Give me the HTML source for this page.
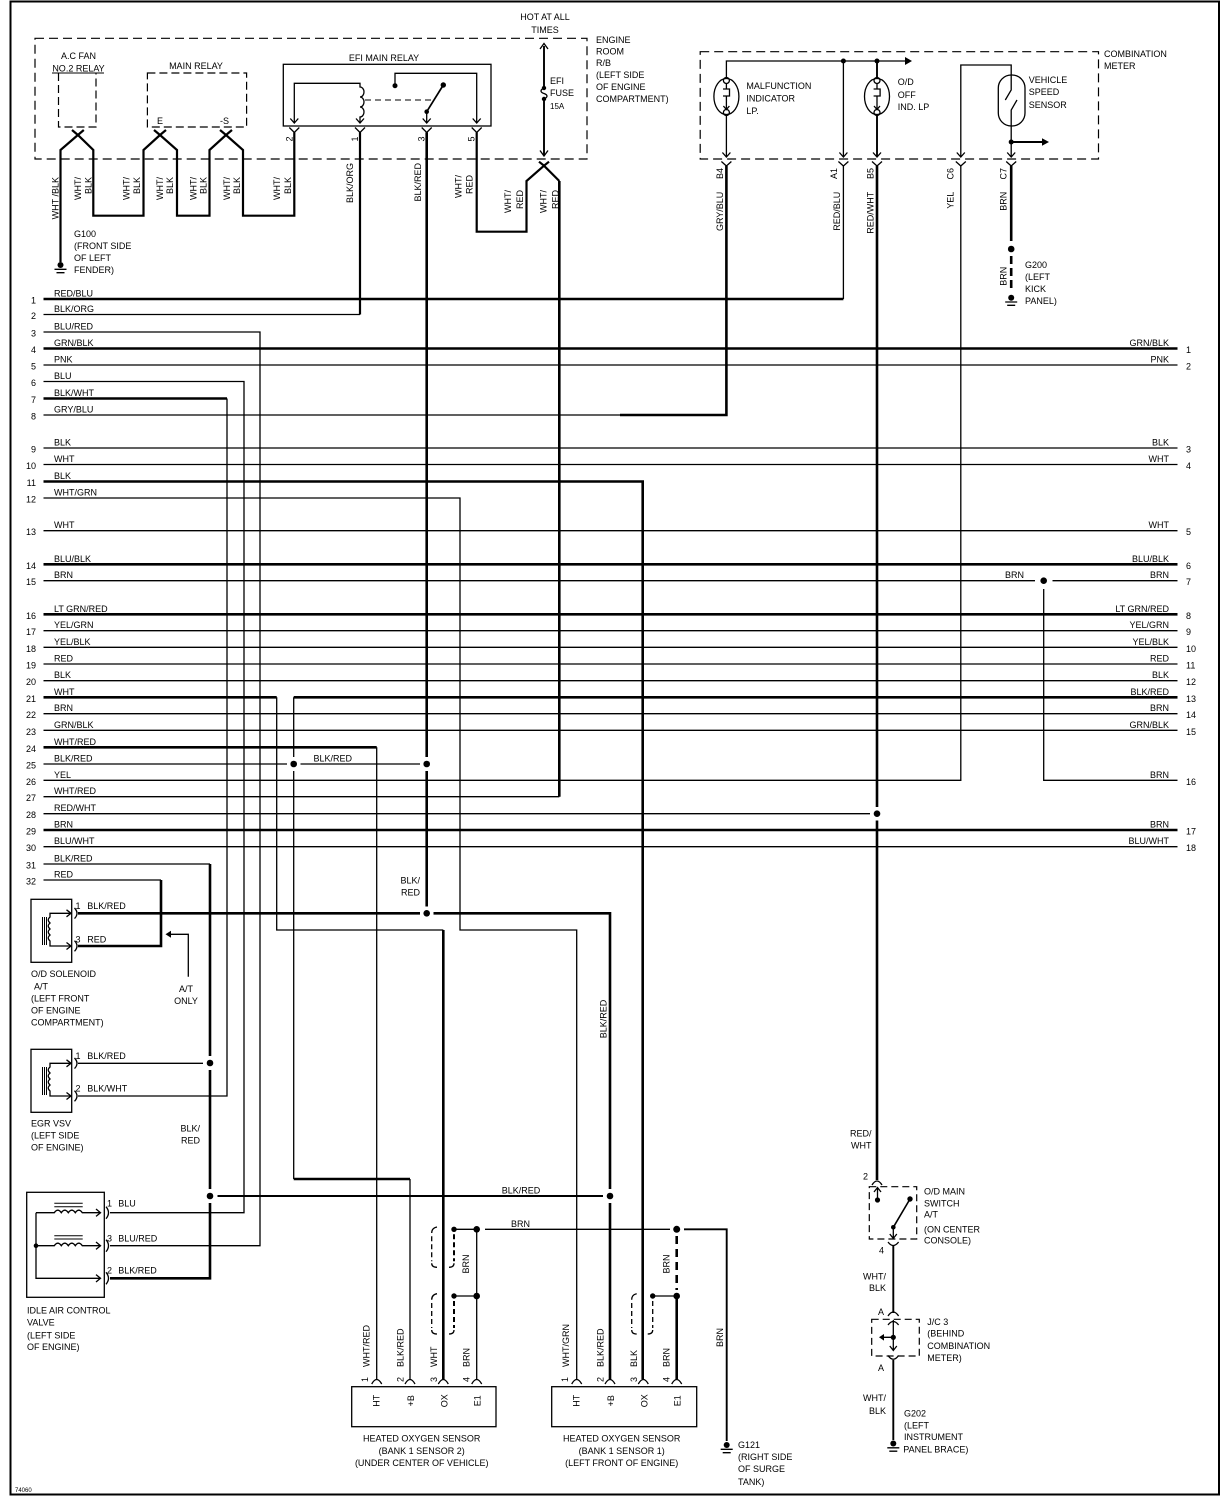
<!DOCTYPE html>
<html><head><meta charset="utf-8"><style>
html,body{margin:0;padding:0;background:#fff;}
svg{display:block}
text{font-family:"Liberation Sans",sans-serif;font-size:9px;fill:#000}
.k{stroke:#000;stroke-width:2.6;fill:none}
.w{stroke:#000;stroke-width:2.2;fill:none}
.m{stroke:#000;stroke-width:1.9;fill:none}
.t{stroke:#000;stroke-width:1.3;fill:none}
.h{stroke:#000;stroke-width:1;fill:none}
.d{stroke:#000;stroke-width:1.2;fill:none;stroke-dasharray:9 5}
</style></head><body>
<svg width="1232" height="1497" viewBox="0 0 1232 1497" xmlns="http://www.w3.org/2000/svg">
<rect x="0" y="0" width="1232" height="1497" fill="#fff"/>
<rect x="10.5" y="1.5" width="1208.5" height="1493" fill="none" stroke="#000" stroke-width="2"/>

<!-- ===== dashed boxes ===== -->
<rect x="35" y="38.3" width="552" height="120.7" class="d"/>
<rect x="700.2" y="51.7" width="398.3" height="107.3" class="d"/>
<path d="M58.5,73 V127 H96 V73" class="d" style="stroke-dasharray:8 4"/>
<path d="M52,73 H104" class="h"/>
<rect x="147.4" y="73" width="99.2" height="54" class="d" style="stroke-dasharray:8 4"/>
<rect x="283.3" y="64.3" width="207.7" height="61.7" class="t"/>

<!-- ===== EFI main relay internals ===== -->
<path class="t" d="M294.3,123 V83.3 H360 V87 a4,5 0 0 1 0,10 a4,5 0 0 1 0,10 a4,5 0 0 1 0,10 V123"/>
<path d="M365,100 H435" class="h" style="stroke-dasharray:6 4"/>
<path class="t" d="M395,85.7 V73.3 H476.7 V123"/>
<path d="M426.7,111.7 L443.3,85" stroke="#000" stroke-width="1.7" fill="none"/>
<path class="t" d="M426.7,111.7 V123"/>
<circle cx="395" cy="85.7" r="2.5"/><circle cx="443.3" cy="85" r="2.7"/><circle cx="426.7" cy="111.7" r="2.3"/>
<!-- relay pin arrows -->
<path class="t" d="M290.3,118.5 L294.3,123 L298.3,118.5 M356,118.5 L360,123 L364,118.5 M422.7,118.5 L426.7,123 L430.7,118.5 M472.7,118.5 L476.7,123 L480.7,118.5"/>
<path class="t" d="M289.3,127.5 L294.3,132.5 L299.3,127.5 M355,127.5 L360,132.5 L365,127.5 M421.7,127.5 L426.7,132.5 L431.7,127.5 M471.7,127.5 L476.7,132.5 L481.7,127.5"/>

<!-- EFI fuse -->
<path d="M544,46 V88 M544,99 V155" stroke="#000" stroke-width="1.9" fill="none"/>
<path class="t" d="M544,88 c-4,2 -4,4 0,5.5 c4,1.5 4,3.5 0,5.5"/>
<circle cx="544" cy="88" r="2.2"/><circle cx="544" cy="99" r="2.2"/>
<path class="t" d="M540,49 L544,43.5 L548,49 M540,150.5 L544,156 L548,150.5"/>

<!-- relay chain wires -->
<path class="w" d="M60.5,262 V150 L77.9,135 L83.8,130"/>
<path class="w" d="M72,130 L77.9,135 L93.3,150 V215.7 H143.5 V150 L160,135 L166,130"/>
<path class="w" d="M154,130 L160,135 L177,150 V215.7 H209.5 V150 L226,135 L232,130"/>
<path class="w" d="M220,130 L226,135 L243,150 V215.7 H294.3 V132.5"/>
<path class="w" d="M476.7,132.5 V231.7 H526.5 V181 L544,165.7 L549,161.7"/>
<path class="w" d="M539,161.7 L544,165.7 L559.3,181"/>
<path class="w" d="M360,132.5 V314.5"/>

<!-- ===== combination meter internals ===== -->
<path class="t" d="M726.4,78 V61 H906 M843.4,61 V157"/>
<path d="M905,57 L912,61 L905,65 Z"/>
<circle cx="843.4" cy="61" r="2.5"/><circle cx="877" cy="61" r="2.5"/>
<path class="m" d="M877,61 V78"/>
<!-- lamps -->
<g class="t">
<ellipse cx="726.4" cy="96.5" rx="12.5" ry="18"/>
<circle cx="726.4" cy="80.5" r="3"/><circle cx="726.4" cy="112.5" r="3"/>
<path d="M726.4,83.5 V89 M723,89 H729.5 V96 H723 M726.4,96 V109.5 M723.4,106 L726.4,109.5 L729.4,106"/>
<ellipse cx="877" cy="96.5" rx="12.5" ry="18"/>
<circle cx="877" cy="80.5" r="3"/><circle cx="877" cy="112.5" r="3"/>
<path d="M877,83.5 V89 M873.6,89 H880.1 V96 H873.6 M877,96 V109.5 M874,106 L877,109.5 L880,106"/>
<path d="M726.4,115.5 V157"/>
</g>
<path class="m" d="M877,115.5 V157"/>
<!-- speed sensor -->
<path class="t" d="M960.8,157 V65 H1011.2 V90 L1005.3,100 M1017,100 L1011.2,110 V157"/>
<rect x="998.3" y="75" width="26.7" height="51" rx="13" class="t"/>
<circle cx="1011.2" cy="142" r="2.5"/>
<path class="m" d="M1011.2,142 H1043"/>
<path d="M1042,138.3 L1049,142 L1042,145.7 Z"/>
<!-- meter pin arrows -->
<path class="t" d="M722.4,152.5 L726.4,157 L730.4,152.5 M839.4,152.5 L843.4,157 L847.4,152.5 M873,152.5 L877,157 L881,152.5 M956.8,152.5 L960.8,157 L964.8,152.5 M1007.2,152.5 L1011.2,157 L1015.2,152.5"/>
<path class="t" d="M721.4,161.5 L726.4,166 L731.4,161.5 M838.4,161.5 L843.4,166 L848.4,161.5 M872,161.5 L877,166 L882,161.5 M955.8,161.5 L960.8,166 L965.8,161.5 M1006.2,161.5 L1011.2,166 L1016.2,161.5"/>

<!-- ===== main harness rows ===== -->
<g class="k">
<path d="M43.5,299 H843.4"/>
<path d="M43.5,348.5 H1177.5"/>
<path d="M43.5,398.5 H227"/>
<path d="M620,415 H726.4 V166"/>
<path d="M43.5,481.5 H642.7 V1379"/>
<path d="M43.5,564.3 H1177.5"/>
<path d="M43.5,614.3 H1177.5"/>
<path d="M43.5,697.3 H276.7"/>
<path d="M293.7,697.3 H1177.5"/>
<path d="M443.3,930 V1379"/>
<path d="M43.5,747.3 H376.7"/>
<path d="M559.3,796.7 V181"/>
<path d="M43.5,830 H1177.5"/>
<path d="M210,864 V1056 M210,1070 V1189 M210,1203 V1278.3 H110"/>
<path d="M161,880 V946 H78"/>
<path d="M426.7,132.5 V757 M426.7,771 V906.5"/>
<path d="M78,913.3 H420 M433.5,913.3 H610 V1189 M610,1203 V1379"/>
<path d="M877,166 V807 M877,820.5 V1180"/>
<path d="M293.7,1179 H410"/>
<path d="M1011.2,166 V241"/>
<path d="M676.7,1296 V1379"/>
</g>
<path d="M1011.2,256 V292" stroke="#000" stroke-width="2.6" stroke-dasharray="8 4" fill="none"/>
<path d="M676.7,1236 V1290" stroke="#000" stroke-width="2.6" stroke-dasharray="8 5" fill="none"/>
<g class="t">
<path d="M43.5,314.5 H360"/>
<path d="M43.5,332 H260 V1245.7 H110"/>
<path d="M43.5,365 H1177.5"/>
<path d="M43.5,381.5 H244 V1212.7 H110"/>
<path d="M227,398.5 V1096 H78"/>
<path d="M43.5,415 H620"/>
<path d="M43.5,448 H1177.5"/>
<path d="M43.5,464.5 H1177.5"/>
<path d="M43.5,498 H460 V930 H576.7 V1379"/>
<path d="M43.5,530.7 H1177.5"/>
<path d="M43.5,580.7 H1035 M1052.5,580.7 H1177.5"/>
<path d="M43.5,630.7 H1177.5"/>
<path d="M43.5,647.3 H1177.5"/>
<path d="M43.5,664 H1177.5"/>
<path d="M43.5,680.7 H1177.5"/>
<path d="M276.7,697.3 V930 H443.3"/>
<path d="M293.7,697.3 V757 M293.7,771 V1179"/>
<path d="M43.5,713.7 H1177.5"/>
<path d="M43.5,730.3 H1177.5"/>
<path d="M376.7,747.3 V1379"/>
<path d="M43.5,764 H287 M300.5,764 H420"/>
<path d="M43.5,780.3 H960.8 V166"/>
<path d="M43.5,796.7 H559.3"/>
<path d="M43.5,813.7 H870"/>
<path d="M43.5,846.7 H1177.5"/>
<path d="M43.5,864 H210"/>
<path d="M43.5,880 H161"/>
<path d="M843.4,299 V166"/>
<path d="M410,1179 V1379"/>
<path d="M1043.7,589 V780.3 H1177.5"/>
<path d="M78,1063.3 H203"/>
<path d="M476.7,1229.3 V1379"/>
<path d="M454,1229.3 H476.7 M454,1296 H476.7"/>
<path d="M485,1229.3 H670"/>
<path d="M652.7,1296 H676.7"/>
</g>
<g class="m">
<path d="M217.5,1196 H603"/>
<path d="M684,1229.3 H726.7 V1441"/>
<path d="M893.3,1246 V1313"/>
<path d="M893.3,1360 V1440"/>
</g>

<!-- junction dots -->
<g>
<circle cx="293.7" cy="764" r="3.3"/><circle cx="426.7" cy="764" r="3.3"/>
<circle cx="426.7" cy="913.3" r="3.3"/><circle cx="877" cy="813.7" r="3.3"/>
<circle cx="1043.7" cy="580.7" r="3.3"/><circle cx="210" cy="1063" r="3.3"/>
<circle cx="210" cy="1196" r="3.3"/><circle cx="610" cy="1196" r="3.3"/>
<circle cx="476.7" cy="1229.3" r="3.3"/><circle cx="676.7" cy="1229.3" r="3.5"/>
<circle cx="476.7" cy="1296" r="3.3"/><circle cx="676.7" cy="1296" r="3.3"/>
<circle cx="1011.2" cy="249" r="3.3"/>
</g>

<!-- grounds -->
<g>
<circle cx="60.5" cy="265" r="3"/><path class="t" d="M54.5,269.3 H66.5 M56.5,272.7 H64.5"/>
<circle cx="1011.2" cy="297.7" r="3"/><path class="t" d="M1005.2,302 H1017.2 M1007.2,305.3 H1015.2"/>
<circle cx="726.7" cy="1445" r="3"/><path class="t" d="M720.7,1449.3 H732.7 M722.7,1452.7 H730.7"/>
<circle cx="893.3" cy="1443.5" r="3"/><path class="t" d="M887.3,1447.8 H899.3 M889.3,1451.2 H897.3"/>
</g>

<!-- ===== O/D solenoid ===== -->
<g id="sol">
<rect x="31" y="899.3" width="40.7" height="63" class="t"/>
<path class="h" d="M42.5,917 V945 M44.5,917 V945 M46.5,917 V945"/>
<path class="t" d="M70,913.3 H50 V917 q-3.5,3 0,6 q-3.5,3 0,6 q-3.5,3 0,6 q-3.5,3 0,6 V946 H70"/>
<path class="t" d="M66.5,909.8 L71,913.3 L66.5,916.8 M66.5,942.5 L71,946 L66.5,949.5"/>
<path class="t" d="M74.5,908 Q79.5,913.3 74.5,918.6 M74.5,940.7 Q79.5,946 74.5,951.3"/>
</g>
<g transform="translate(0,150)">
<rect x="31" y="899.3" width="40.7" height="63" class="t"/>
<path class="h" d="M42.5,917 V945 M44.5,917 V945 M46.5,917 V945"/>
<path class="t" d="M70,913.3 H50 V917 q-3.5,3 0,6 q-3.5,3 0,6 q-3.5,3 0,6 q-3.5,3 0,6 V946 H70"/>
<path class="t" d="M66.5,909.8 L71,913.3 L66.5,916.8 M66.5,942.5 L71,946 L66.5,949.5"/>
<path class="t" d="M74.5,908 Q79.5,913.3 74.5,918.6 M74.5,940.7 Q79.5,946 74.5,951.3"/>
</g>
<!-- A/T only arrow -->
<path class="t" d="M188.3,976.7 V934.3 H170"/>
<path d="M171,930.8 L165.5,934.3 L171,937.8 Z"/>

<!-- ===== IAC ===== -->
<rect x="26.7" y="1192.3" width="77.6" height="105" class="t"/>
<path class="t" d="M36,1212.7 H54.3 q3.5,-5 7,0 q3.5,-5 7,0 q3.5,-5 7,0 q3.5,-5 7,0 H100"/>
<path class="t" d="M36,1245.7 H54.3 q3.5,-5 7,0 q3.5,-5 7,0 q3.5,-5 7,0 q3.5,-5 7,0 H100"/>
<path class="h" d="M54.3,1203.3 H82.7 M54.3,1206.7 H82.7 M54.3,1235.7 H82.7 M54.3,1239 H82.7"/>
<path class="t" d="M36,1212.7 V1278.3 H100"/>
<circle cx="36" cy="1245.7" r="2.3"/>
<path class="t" d="M96,1209 L100.5,1212.7 L96,1216.4 M96,1242 L100.5,1245.7 L96,1249.4 M96,1274.6 L100.5,1278.3 L96,1282"/>
<path class="t" d="M106,1206.7 Q111,1212.7 106,1218.7 M106,1239.7 Q111,1245.7 106,1251.7 M106,1272.3 Q111,1278.3 106,1284.3"/>

<!-- ===== Oxygen sensors ===== -->
<rect x="351.7" y="1386.7" width="144.3" height="40" class="t"/>
<rect x="551.7" y="1386.7" width="145" height="40" class="t"/>
<path class="t" d="M371.7,1384 Q376.7,1375 381.7,1384 M405,1384 Q410,1375 415,1384 M438.3,1384 Q443.3,1375 448.3,1384 M471.7,1384 Q476.7,1375 481.7,1384"/>
<path class="t" d="M571.7,1384 Q576.7,1375 581.7,1384 M605,1384 Q610,1375 615,1384 M638.3,1384 Q643.3,1375 648.3,1384 M671.7,1384 Q676.7,1375 681.7,1384"/>
<!-- shields -->
<g transform="translate(454,1229.3)">
<path class="t" d="M-17,-2.3 Q-22.3,-1.3 -22.3,3.7 M-22.3,34 Q-22.3,38 -17,38"/>
<path class="t" d="M-22.3,7 V32" style="stroke-dasharray:5 3"/>
<path d="M0,5 V32" stroke="#000" stroke-width="2" stroke-dasharray="5 3" fill="none"/>
<path class="t" d="M0,34 Q0,38 -5,38"/>
<circle cx="0" cy="0" r="2.7"/>
</g>
<g transform="translate(454,1296)">
<path class="t" d="M-17,-2.3 Q-22.3,-1.3 -22.3,3.7 M-22.3,34 Q-22.3,38 -17,38"/>
<path class="t" d="M-22.3,7 V32" style="stroke-dasharray:5 3"/>
<path d="M0,5 V32" stroke="#000" stroke-width="2" stroke-dasharray="5 3" fill="none"/>
<path class="t" d="M0,34 Q0,38 -5,38"/>
<circle cx="0" cy="0" r="2.7"/>
</g>
<g transform="translate(652.7,1296)">
<path class="t" d="M-16,-2.3 Q-21,-1.3 -21,3.7 M-21,34 Q-21,38 -16,38"/>
<path class="t" d="M-21,7 V32" style="stroke-dasharray:5 3"/>
<path class="t" d="M0,5 V32" style="stroke-dasharray:5 3"/>
<path class="t" d="M0,34 Q0,38 -5,38"/>
<circle cx="0" cy="0" r="2.7"/>
</g>

<!-- ===== O/D main switch & J/C 3 ===== -->
<path class="t" d="M872,1185 Q877,1177 882,1185"/>
<rect x="869.3" y="1186.7" width="47.4" height="52.3" class="d" style="stroke-dasharray:7 4"/>
<path class="t" d="M877.5,1200 V1188 M874,1192 L877.5,1187.5 L881,1192"/>
<circle cx="877.5" cy="1200" r="2.6"/>
<path d="M910,1199 L893.3,1227.3" stroke="#000" stroke-width="1.6"/>
<circle cx="910" cy="1199" r="2.7"/><circle cx="893.3" cy="1227.3" r="2.3"/>
<path class="t" d="M893.3,1227.3 V1238 M889.8,1234 L893.3,1238.5 L896.8,1234"/>
<path class="t" d="M888,1242 Q893.3,1249 898.6,1242"/>
<path class="t" d="M888,1316 Q893.3,1308 898.6,1316"/>
<rect x="871.7" y="1319.3" width="47.6" height="36.7" class="d" style="stroke-dasharray:7 4"/>
<path class="t" d="M888,1325 Q893.3,1318 898.6,1325 M893.3,1320 V1350 M889.8,1346 L893.3,1350.5 L896.8,1346 M893.3,1337.3 H883"/>
<circle cx="893.3" cy="1337.3" r="2.6"/>
<path d="M884,1334 L879,1337.3 L884,1340.6 Z"/>
<path class="t" d="M888,1355.5 Q893.3,1363 898.6,1355.5"/>

<!-- ===== TEXT ===== -->
<g>
<text x="545" y="20" text-anchor="middle">HOT AT ALL</text>
<text x="545" y="33" text-anchor="middle">TIMES</text>
<text x="596" y="43">ENGINE</text>
<text x="596" y="54.5">ROOM</text>
<text x="596" y="66">R/B</text>
<text x="596" y="78">(LEFT SIDE</text>
<text x="596" y="90">OF ENGINE</text>
<text x="596" y="102">COMPARTMENT)</text>
<text x="78.5" y="59" text-anchor="middle">A.C FAN</text>
<text x="78.5" y="71.5" text-anchor="middle">NO.2 RELAY</text>
<text x="196" y="69" text-anchor="middle">MAIN RELAY</text>
<text x="157" y="124">E</text>
<text x="220" y="124">-S</text>
<text x="384" y="61" text-anchor="middle">EFI MAIN RELAY</text>
<text x="550" y="84">EFI</text>
<text x="550" y="96">FUSE</text>
<text x="550" y="109" style="font-size:8px">15A</text>
<text x="74" y="237">G100</text>
<text x="74" y="249">(FRONT SIDE</text>
<text x="74" y="261">OF LEFT</text>
<text x="74" y="273">FENDER)</text>
<text x="1104" y="57">COMBINATION</text>
<text x="1104" y="69">METER</text>
<text x="746.4" y="89">MALFUNCTION</text>
<text x="746.4" y="101.5">INDICATOR</text>
<text x="746.4" y="114">LP.</text>
<text x="897.8" y="85">O/D</text>
<text x="897.8" y="98">OFF</text>
<text x="897.8" y="110">IND. LP</text>
<text x="1028.8" y="83">VEHICLE</text>
<text x="1028.8" y="95">SPEED</text>
<text x="1028.8" y="108">SENSOR</text>
<text x="1025" y="268">G200</text>
<text x="1025" y="280">(LEFT</text>
<text x="1025" y="292">KICK</text>
<text x="1025" y="304">PANEL)</text>
</g>

<!-- rotated top labels -->
<g text-anchor="end">
<text transform="translate(58.7,177) rotate(-90)">WHT /BLK</text>
<text transform="translate(80.9,177) rotate(-90)">WHT/</text>
<text transform="translate(91.5,177) rotate(-90)">BLK</text>
<text transform="translate(129.5,177) rotate(-90)">WHT/</text>
<text transform="translate(140.1,177) rotate(-90)">BLK</text>
<text transform="translate(163,177) rotate(-90)">WHT/</text>
<text transform="translate(173,177) rotate(-90)">BLK</text>
<text transform="translate(196.3,177) rotate(-90)">WHT/</text>
<text transform="translate(206.5,177) rotate(-90)">BLK</text>
<text transform="translate(230,177) rotate(-90)">WHT/</text>
<text transform="translate(240,177) rotate(-90)">BLK</text>
<text transform="translate(280,177) rotate(-90)">WHT/</text>
<text transform="translate(291,177) rotate(-90)">BLK</text>
<text transform="translate(352.8,163) rotate(-90)">BLK/ORG</text>
<text transform="translate(421,163) rotate(-90)">BLK/RED</text>
<text transform="translate(461.5,175) rotate(-90)">WHT/</text>
<text transform="translate(472.6,175) rotate(-90)">RED</text>
<text transform="translate(511,190) rotate(-90)">WHT/</text>
<text transform="translate(523,190) rotate(-90)">RED</text>
<text transform="translate(546.5,190) rotate(-90)">WHT/</text>
<text transform="translate(558.7,190) rotate(-90)">RED</text>
<text transform="translate(722.8,168) rotate(-90)">B4</text>
<text transform="translate(722.8,191.7) rotate(-90)">GRY/BLU</text>
<text transform="translate(837,168) rotate(-90)">A1</text>
<text transform="translate(840,191.7) rotate(-90)">RED/BLU</text>
<text transform="translate(873.4,168) rotate(-90)">B5</text>
<text transform="translate(873.4,191.7) rotate(-90)">RED/WHT</text>
<text transform="translate(953.6,168) rotate(-90)">C6</text>
<text transform="translate(953.6,191.7) rotate(-90)">YEL</text>
<text transform="translate(1006.4,168) rotate(-90)">C7</text>
<text transform="translate(1006.4,191.7) rotate(-90)">BRN</text>
<text transform="translate(1006.4,266.7) rotate(-90)">BRN</text>
</g>
<g text-anchor="middle">
<text transform="translate(292.3,139) rotate(-90)">2</text>
<text transform="translate(358,139) rotate(-90)">1</text>
<text transform="translate(424.7,139) rotate(-90)">3</text>
<text transform="translate(474.7,139) rotate(-90)">5</text>
</g>

<!-- left row labels -->
<g>
<text x="54" y="296.5">RED/BLU</text>
<text x="54" y="312">BLK/ORG</text>
<text x="54" y="329.5">BLU/RED</text>
<text x="54" y="346">GRN/BLK</text>
<text x="54" y="362.5">PNK</text>
<text x="54" y="379">BLU</text>
<text x="54" y="396">BLK/WHT</text>
<text x="54" y="412.5">GRY/BLU</text>
<text x="54" y="445.5">BLK</text>
<text x="54" y="462">WHT</text>
<text x="54" y="479">BLK</text>
<text x="54" y="495.5">WHT/GRN</text>
<text x="54" y="528.2">WHT</text>
<text x="54" y="561.8">BLU/BLK</text>
<text x="54" y="578.2">BRN</text>
<text x="54" y="611.8">LT GRN/RED</text>
<text x="54" y="628.2">YEL/GRN</text>
<text x="54" y="644.8">YEL/BLK</text>
<text x="54" y="661.5">RED</text>
<text x="54" y="678.2">BLK</text>
<text x="54" y="694.8">WHT</text>
<text x="54" y="711.2">BRN</text>
<text x="54" y="727.8">GRN/BLK</text>
<text x="54" y="744.8">WHT/RED</text>
<text x="54" y="761.5">BLK/RED</text>
<text x="54" y="777.8">YEL</text>
<text x="54" y="794.2">WHT/RED</text>
<text x="54" y="811.2">RED/WHT</text>
<text x="54" y="827.5">BRN</text>
<text x="54" y="844.2">BLU/WHT</text>
<text x="54" y="861.5">BLK/RED</text>
<text x="54" y="877.5">RED</text>
</g>
<g text-anchor="end" style="font-size:8.5px">
<text x="36" y="303.5">1</text><text x="36" y="319">2</text><text x="36" y="336.5">3</text>
<text x="36" y="353">4</text><text x="36" y="369.5">5</text><text x="36" y="386">6</text>
<text x="36" y="403">7</text><text x="36" y="419.5">8</text><text x="36" y="452.5">9</text>
<text x="36" y="469">10</text><text x="36" y="486">11</text><text x="36" y="502.5">12</text>
<text x="36" y="535.2">13</text><text x="36" y="568.8">14</text><text x="36" y="585.2">15</text>
<text x="36" y="618.8">16</text><text x="36" y="635.2">17</text><text x="36" y="651.8">18</text>
<text x="36" y="668.5">19</text><text x="36" y="685.2">20</text><text x="36" y="701.8">21</text>
<text x="36" y="718.2">22</text><text x="36" y="734.8">23</text><text x="36" y="751.8">24</text>
<text x="36" y="768.5">25</text><text x="36" y="784.8">26</text><text x="36" y="801.2">27</text>
<text x="36" y="818.2">28</text><text x="36" y="834.5">29</text><text x="36" y="851.2">30</text>
<text x="36" y="868.5">31</text><text x="36" y="884.5">32</text>
</g>
<!-- right row labels -->
<g text-anchor="end">
<text x="1169" y="346">GRN/BLK</text>
<text x="1169" y="362.5">PNK</text>
<text x="1169" y="445.5">BLK</text>
<text x="1169" y="462">WHT</text>
<text x="1169" y="528.2">WHT</text>
<text x="1169" y="561.8">BLU/BLK</text>
<text x="1169" y="578.2">BRN</text>
<text x="1169" y="611.8">LT GRN/RED</text>
<text x="1169" y="628.2">YEL/GRN</text>
<text x="1169" y="644.8">YEL/BLK</text>
<text x="1169" y="661.5">RED</text>
<text x="1169" y="678.2">BLK</text>
<text x="1169" y="694.8">BLK/RED</text>
<text x="1169" y="711.2">BRN</text>
<text x="1169" y="727.8">GRN/BLK</text>
<text x="1169" y="777.8">BRN</text>
<text x="1169" y="827.5">BRN</text>
<text x="1169" y="844.2">BLU/WHT</text>
</g>
<g style="font-size:8.5px">
<text x="1186" y="353">1</text><text x="1186" y="369.5">2</text><text x="1186" y="452.5">3</text>
<text x="1186" y="469">4</text><text x="1186" y="535.2">5</text><text x="1186" y="568.8">6</text>
<text x="1186" y="585.2">7</text><text x="1186" y="618.8">8</text><text x="1186" y="635.2">9</text>
<text x="1186" y="651.8">10</text><text x="1186" y="668.5">11</text><text x="1186" y="685.2">12</text>
<text x="1186" y="701.8">13</text><text x="1186" y="718.2">14</text><text x="1186" y="734.8">15</text>
<text x="1186" y="784.8">16</text><text x="1186" y="834.5">17</text><text x="1186" y="851.2">18</text>
</g>

<!-- mid labels -->
<g>
<text x="1005" y="578">BRN</text>
<text x="313.5" y="761.5">BLK/RED</text>
<text x="420" y="883.5" text-anchor="end">BLK/</text>
<text x="420" y="895.5" text-anchor="end">RED</text>
<text transform="translate(606.3,1019) rotate(-90)" text-anchor="middle">BLK/RED</text>
<text x="501.7" y="1193.7">BLK/RED</text>
<text x="511" y="1227">BRN</text>
</g>

<!-- bottom-left labels -->
<g>
<text x="75.5" y="909">1</text><text x="87.3" y="909">BLK/RED</text>
<text x="75.5" y="942.3">3</text><text x="87.3" y="942.3">RED</text>
<text x="31" y="977">O/D SOLENOID</text>
<text x="34" y="989.5">A/T</text>
<text x="31" y="1001.5">(LEFT FRONT</text>
<text x="31" y="1013.5">OF ENGINE</text>
<text x="31" y="1025.5">COMPARTMENT)</text>
<text x="186" y="992" text-anchor="middle">A/T</text>
<text x="186" y="1004" text-anchor="middle">ONLY</text>
<text x="75.5" y="1059">1</text><text x="87.3" y="1059">BLK/RED</text>
<text x="75.5" y="1091.7">2</text><text x="87.3" y="1091.7">BLK/WHT</text>
<text x="31" y="1126.6">EGR VSV</text>
<text x="31" y="1138.6">(LEFT SIDE</text>
<text x="31" y="1150.6">OF ENGINE)</text>
<text x="200" y="1131.6" text-anchor="end">BLK/</text>
<text x="200" y="1143.3" text-anchor="end">RED</text>
<text x="107" y="1206.6">1</text><text x="118.3" y="1206.6">BLU</text>
<text x="107" y="1241.6">3</text><text x="118.3" y="1241.6">BLU/RED</text>
<text x="107" y="1273.3">2</text><text x="118.3" y="1273.3">BLK/RED</text>
<text x="27" y="1313.3">IDLE AIR CONTROL</text>
<text x="27" y="1325.6">VALVE</text>
<text x="27" y="1338.3">(LEFT SIDE</text>
<text x="27" y="1350">OF ENGINE)</text>
<text x="15" y="1492" style="font-size:6px">74060</text>
</g>

<!-- sensor labels -->
<g>
<text transform="translate(369.7,1367) rotate(-90)">WHT/RED</text>
<text transform="translate(403.7,1367) rotate(-90)">BLK/RED</text>
<text transform="translate(437,1367) rotate(-90)">WHT</text>
<text transform="translate(469.7,1367) rotate(-90)">BRN</text>
<text transform="translate(368,1382) rotate(-90)">1</text>
<text transform="translate(403.7,1382) rotate(-90)">2</text>
<text transform="translate(437,1382) rotate(-90)">3</text>
<text transform="translate(469.7,1382) rotate(-90)">4</text>
<text transform="translate(569,1367) rotate(-90)">WHT/GRN</text>
<text transform="translate(603.7,1367) rotate(-90)">BLK/RED</text>
<text transform="translate(637,1367) rotate(-90)">BLK</text>
<text transform="translate(669.7,1367) rotate(-90)">BRN</text>
<text transform="translate(568,1382) rotate(-90)">1</text>
<text transform="translate(603.7,1382) rotate(-90)">2</text>
<text transform="translate(637,1382) rotate(-90)">3</text>
<text transform="translate(669.7,1382) rotate(-90)">4</text>
</g>
<g text-anchor="middle">
<text transform="translate(469,1264) rotate(-90)">BRN</text>
<text transform="translate(669.7,1264) rotate(-90)">BRN</text>
<text transform="translate(723,1337.5) rotate(-90)">BRN</text>
<text transform="translate(379.7,1400.7) rotate(-90)">HT</text>
<text transform="translate(414,1400.7) rotate(-90)">+B</text>
<text transform="translate(447.3,1400.7) rotate(-90)">OX</text>
<text transform="translate(480.7,1400.7) rotate(-90)">E1</text>
<text transform="translate(579.7,1400.7) rotate(-90)">HT</text>
<text transform="translate(614,1400.7) rotate(-90)">+B</text>
<text transform="translate(647.3,1400.7) rotate(-90)">OX</text>
<text transform="translate(680.7,1400.7) rotate(-90)">E1</text>
<text x="421.7" y="1441.5">HEATED OXYGEN SENSOR</text>
<text x="421.7" y="1454">(BANK 1 SENSOR 2)</text>
<text x="421.7" y="1466">(UNDER CENTER OF VEHICLE)</text>
<text x="621.7" y="1441.5">HEATED OXYGEN SENSOR</text>
<text x="621.7" y="1454">(BANK 1 SENSOR 1)</text>
<text x="621.7" y="1466">(LEFT FRONT OF ENGINE)</text>
</g>
<g>
<text x="738" y="1448">G121</text>
<text x="738" y="1460">(RIGHT SIDE</text>
<text x="738" y="1472">OF SURGE</text>
<text x="738" y="1485">TANK)</text>
</g>

<!-- switch labels -->
<g>
<text x="871.5" y="1136.6" text-anchor="end">RED/</text>
<text x="871.5" y="1148.3" text-anchor="end">WHT</text>
<text x="863" y="1179.3">2</text>
<text x="924" y="1194.3">O/D MAIN</text>
<text x="924" y="1206.3">SWITCH</text>
<text x="924" y="1217.3">A/T</text>
<text x="924" y="1232.3">(ON CENTER</text>
<text x="924" y="1243.3">CONSOLE)</text>
<text x="879" y="1253.3">4</text>
<text x="886" y="1279.3" text-anchor="end">WHT/</text>
<text x="886" y="1291" text-anchor="end">BLK</text>
<text x="878" y="1315">A</text>
<text x="878" y="1371">A</text>
<text x="927.3" y="1325">J/C 3</text>
<text x="927.3" y="1336.6">(BEHIND</text>
<text x="927.3" y="1349">COMBINATION</text>
<text x="927.3" y="1361">METER)</text>
<text x="886" y="1401" text-anchor="end">WHT/</text>
<text x="886" y="1414" text-anchor="end">BLK</text>
<text x="904" y="1416.6">G202</text>
<text x="904" y="1428.3">(LEFT</text>
<text x="904" y="1440">INSTRUMENT</text>
<text x="903.3" y="1452.6">PANEL BRACE)</text>
</g>
</svg>
</body></html>
